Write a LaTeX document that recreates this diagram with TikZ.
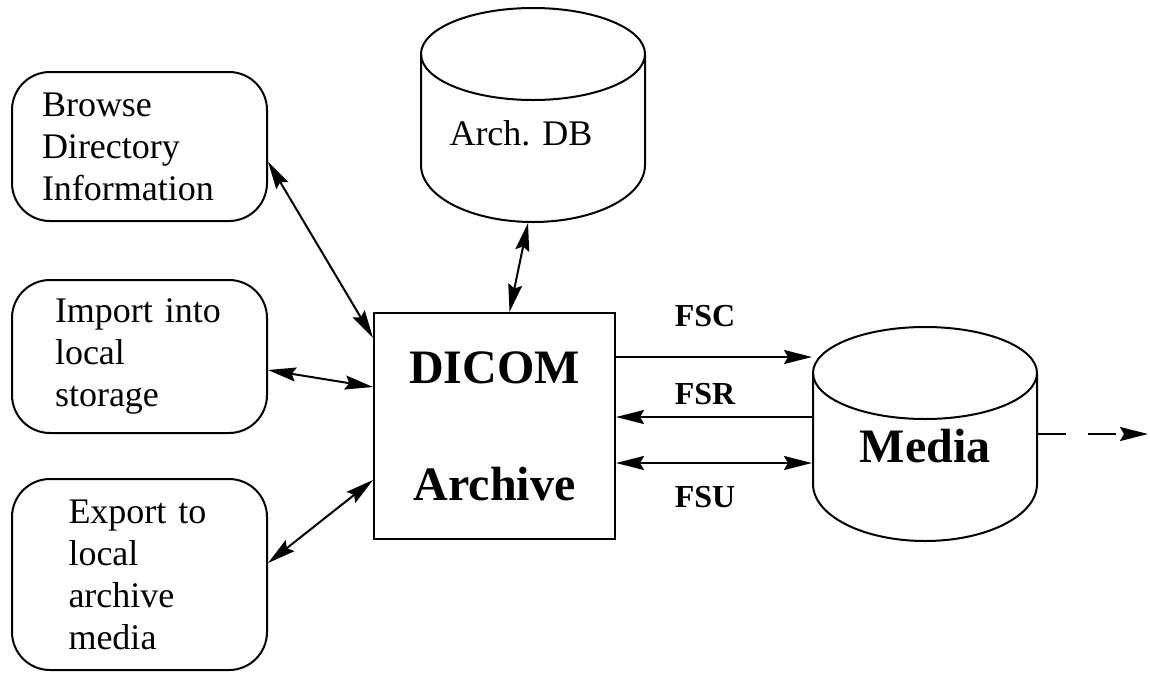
\documentclass[tikz,border=0pt]{standalone}
\usepackage{fontspec}
\setmainfont{Liberation Serif}
\usetikzlibrary{arrows.meta}

\begin{document}
\begin{tikzpicture}[x=1pt, y=-1pt, line width=2pt,
    >={Stealth[length=28pt, width=14pt, inset=4pt]},
    task/.style={draw, rounded corners=38pt, minimum width=255pt, inner sep=0pt, align=left, font=\fontsize{36pt}{42pt}\selectfont},
    store/.style={minimum width=224pt, minimum height=214pt, inner sep=0pt},
    plain/.style={font=\fontsize{36pt}{42pt}\selectfont},
    big/.style={font=\fontsize{48pt}{117pt}\selectfont\bfseries, align=center},
    small/.style={font=\fontsize{32pt}{38pt}\selectfont\bfseries}]
  \useasboundingbox (0,0) rectangle (1150,673);
  % place nodes
  \node (browse) [task, minimum height=149pt, text width=195pt] at (139.5,146.5) {Browse\\Directory\\Information};
  \node (import) [task, minimum height=153pt, text width=169pt] at (139.5,356.5) {Import into\\local\\storage};
  \node (export) [task, minimum height=191pt, text width=142pt] at (139.5,574.5) {Export to\\local\\archive\\media};

  \node (dicom) [draw, big, minimum width=241pt, minimum height=226pt] at (494.5,426) {DICOM\\Archive};

  \node (archdb) [store] at (533,115) {};
  \node (archdbtext) [plain] at ([xshift=-12pt, yshift=-18pt]archdb.center) {Arch. DB};
  \node (media) [store] at (925,434) {};
  \node (mediatext) [big] at ([yshift=-12pt]media.center) {Media};

  \node (fsc) [small] at (705,316) {FSC};
  \node (fsr) [small] at (705,394) {FSR};
  \node (fsu) [small] at (705,497) {FSU};
  \coordinate (beyond) at (1148,434);
  % draw stores
  \draw (533,54) ellipse [x radius=112pt, y radius=46pt];
  \draw (421,54) -- (421,165) .. controls (421,196.5) and (471.1,222) .. (533,222)
        .. controls (594.9,222) and (645,196.5) .. (645,165) -- (645,54);
  \draw (925,373) ellipse [x radius=112pt, y radius=46pt];
  \draw (813,373) -- (813,484) .. controls (813,515.5) and (863.1,541) .. (925,541)
        .. controls (986.9,541) and (1037,515.5) .. (1037,484) -- (1037,373);
  % draw edges
  \draw [<->] ([yshift=-15pt]browse.east) -- ([yshift=-26pt]dicom.north west);
  \draw [<->] ([yshift=-13.5pt]import.east) -- ([yshift=39pt]dicom.west);
  \draw [<->] ([yshift=11.5pt]export.east) -- ([yshift=-54pt]dicom.west);
  \draw [<->] ([xshift=-5pt]archdb.south) -- ([xshift=15pt]dicom.north);

  \draw [->] ([yshift=69pt]dicom.east) -- ([yshift=77pt]media.west);
  \draw [<-] ([yshift=9pt]dicom.east) -- ([yshift=17pt]media.west);
  \draw [<->] ([yshift=-37pt]dicom.east) -- ([yshift=-29pt]media.west);
  \draw [->, dash pattern=on 28pt off 22pt] (media.east) -- (beyond);
\end{tikzpicture}
\end{document}
